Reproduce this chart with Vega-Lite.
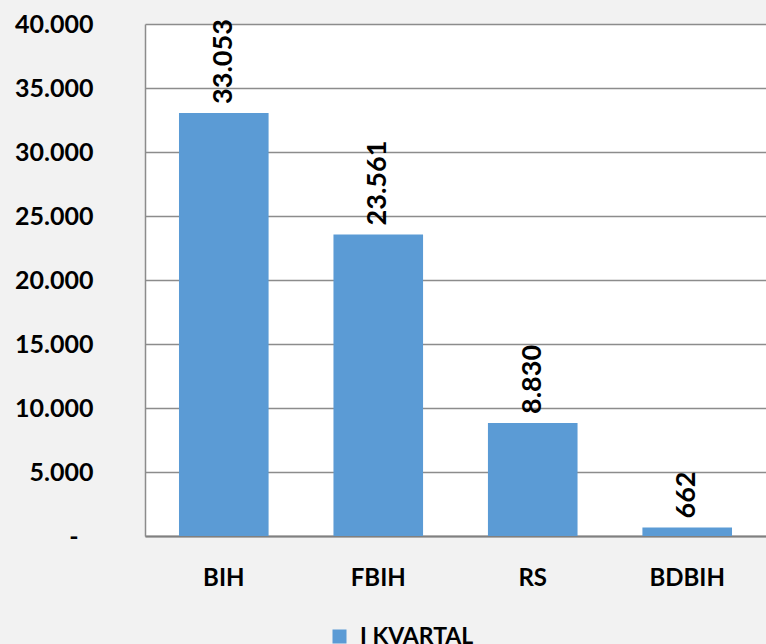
{
  "$schema": "https://vega.github.io/schema/vega-lite/v6.json",
  "autosize": "none",
  "width": 621,
  "height": 512,
  "padding": {"left": 145, "top": 24, "right": 0, "bottom": 108},
  "background": "#f2f2f2",
  "config": {
    "view": {"fill": "white", "stroke": null},
    "font": "Lato",
    "locale": {
      "number": {"decimal": ",", "thousands": ".", "grouping": [3], "currency": ["", ""]}
    }
  },
  "data": {
    "values": [
      {"region": "BIH", "value": 33053, "series": "I KVARTAL"},
      {"region": "FBIH", "value": 23561, "series": "I KVARTAL"},
      {"region": "RS", "value": 8830, "series": "I KVARTAL"},
      {"region": "BDBIH", "value": 662, "series": "I KVARTAL"}
    ]
  },
  "encoding": {
    "x": {
      "field": "region",
      "type": "nominal",
      "sort": null,
      "scale": {"paddingInner": 0.42, "paddingOuter": 0.22},
      "axis": {
        "title": null,
        "labelAngle": 0,
        "labelFont": "Lato",
        "labelFontSize": 24,
        "labelFontWeight": "bold",
        "labelColor": "#000000",
        "labelPadding": 30,
        "ticks": false,
        "domainColor": "#808080",
        "domainWidth": 2,
        "grid": false
      }
    },
    "y": {
      "field": "value",
      "type": "quantitative",
      "scale": {"domain": [0, 40000], "nice": false},
      "axis": {
        "title": null,
        "values": [0, 5000, 10000, 15000, 20000, 25000, 30000, 35000, 40000],
        "labelExpr": "datum.value == 0 ? '-' : format(datum.value, ',')",
        "labelFont": "Lato",
        "labelFontSize": 25,
        "labelFontWeight": "bold",
        "labelColor": "#000000",
        "labelPadding": {"condition": {"test": "datum.value == 0", "value": 67}, "value": 52},
        "ticks": false,
        "domainColor": "#8c8c8c",
        "domainWidth": 1.5,
        "gridColor": "#8c8c8c",
        "gridWidth": 1.5
      }
    }
  },
  "layer": [
    {
      "mark": {"type": "bar", "color": "#5b9bd5"},
      "encoding": {
        "color": {
          "field": "series",
          "type": "nominal",
          "scale": {"range": ["#5b9bd5"]},
          "legend": {
            "title": null,
            "orient": "none",
            "legendX": 183,
            "legendY": 601,
            "padding": 0,
            "symbolType": "square",
            "symbolSize": 196,
            "symbolStrokeWidth": 0,
            "symbolOpacity": 1,
            "labelFont": "Lato",
            "labelFontSize": 23,
            "labelFontWeight": "bold",
            "labelColor": "#000000",
            "labelOffset": 9
          }
        }
      }
    },
    {
      "mark": {
        "type": "text",
        "angle": 270,
        "align": "left",
        "baseline": "middle",
        "dx": 9,
        "font": "Lato",
        "fontSize": 27,
        "fontWeight": "bold",
        "color": "#000000"
      },
      "encoding": {
        "text": {"field": "value", "type": "quantitative", "format": ",.0f"}
      }
    }
  ]
}
